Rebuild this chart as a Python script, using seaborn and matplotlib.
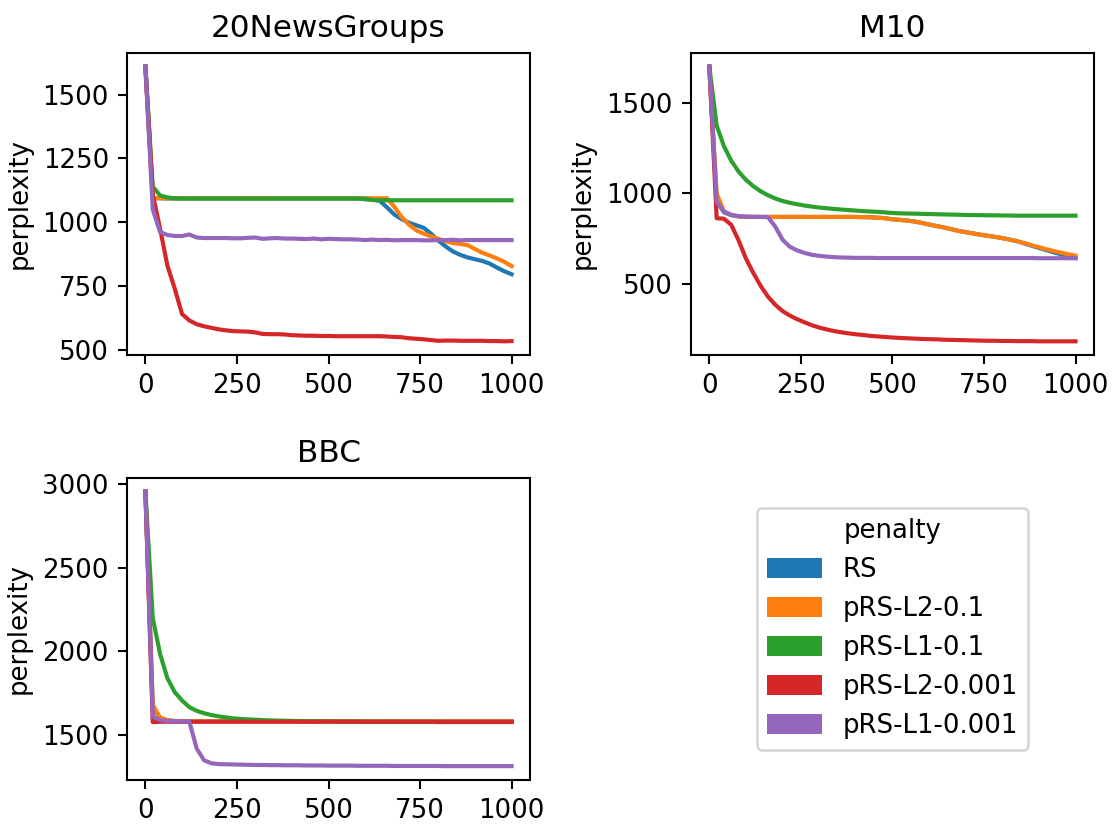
"""
Perplexity curves of the penalised samplers on three corpora.
"""

import matplotlib
matplotlib.use("Agg")
import matplotlib.pyplot as plt
from matplotlib.patches import Patch
import seaborn as sns
import pandas as pd

steps = list(range(0, 1001, 20))
penalties = ["RS", "pRS-L2-0.1", "pRS-L1-0.1", "pRS-L2-0.001", "pRS-L1-0.001"]
datasets = ["20NewsGroups", "M10", "BBC"]

# 20NewsGroups
ng_rs = [1610, 1095, 1094, 1093, 1093, 1093, 1093, 1093, 1093, 1093,
         1093, 1093, 1093, 1093, 1093, 1094, 1093, 1093, 1093, 1093,
         1093, 1093, 1093, 1093, 1093, 1093, 1093, 1093, 1093, 1093,
         1090, 1089, 1084, 1058, 1030, 1012, 998, 988, 978, 955,
         928, 905, 885, 872, 862, 855, 848, 838, 822, 808,
         796]
ng_l2_01 = [1610, 1095, 1094, 1094, 1094, 1094, 1094, 1094, 1094, 1094,
            1094, 1094, 1094, 1094, 1094, 1095, 1094, 1094, 1094, 1094,
            1094, 1094, 1094, 1094, 1094, 1094, 1094, 1094, 1094, 1094,
            1094, 1094, 1094, 1094, 1060, 1020, 990, 968, 955, 945,
            935, 925, 918, 915, 910, 895, 880, 870, 858, 845,
            828]
ng_l1_01 = [1610, 1140, 1105, 1097, 1094, 1093, 1093, 1093, 1093, 1093,
            1093, 1093, 1093, 1093, 1093, 1093, 1093, 1093, 1093, 1093,
            1093, 1093, 1093, 1093, 1093, 1093, 1093, 1093, 1093, 1093,
            1092, 1087, 1086, 1086, 1086, 1086, 1086, 1086, 1086, 1086,
            1086, 1086, 1086, 1086, 1086, 1086, 1086, 1086, 1086, 1086,
            1086]
ng_l2_0001 = [1610, 1110, 975, 830, 740, 640, 615, 600, 592, 586,
              580, 576, 573, 572, 571, 568, 562, 561, 561, 560,
              557, 556, 555, 555, 554, 554, 553, 553, 553, 553,
              553, 553, 553, 552, 550, 549, 545, 543, 541, 538,
              535, 536, 536, 535, 535, 535, 535, 534, 534, 533,
              534]
ng_l1_0001 = [1610, 1050, 962, 950, 946, 946, 952, 940, 938, 938,
              938, 938, 937, 937, 939, 940, 935, 937, 938, 936,
              936, 935, 934, 936, 933, 935, 934, 933, 933, 932,
              930, 932, 930, 931, 929, 930, 930, 930, 929, 929,
              930, 930, 931, 929, 930, 930, 930, 930, 930, 930,
              930]

# M10
m10_rs = [1700, 960, 895, 880, 873, 870, 870, 870, 870, 870,
          870, 870, 870, 870, 870, 870, 870, 870, 870, 870,
          870, 869, 868, 866, 863, 857, 854, 850, 845, 837,
          828, 820, 812, 803, 793, 786, 779, 772, 766, 760,
          753, 745, 736, 724, 711, 699, 687, 675, 664, 653,
          643]
m10_l2_01 = [1700, 1000, 900, 880, 873, 870, 870, 870, 870, 870,
             870, 870, 870, 870, 870, 870, 870, 870, 870, 870,
             870, 869, 868, 866, 863, 857, 854, 850, 845, 837,
             828, 820, 812, 803, 793, 786, 779, 772, 766, 760,
             753, 745, 736, 726, 714, 703, 692, 682, 673, 664,
             656]
m10_l1_01 = [1700, 1375, 1260, 1180, 1120, 1075, 1040, 1012, 990, 972,
             958, 948, 940, 933, 927, 922, 918, 914, 911, 908,
             905, 902, 900, 898, 895, 892, 890, 889, 888, 887,
             886, 885, 884, 883, 882, 881, 880, 880, 879, 879,
             878, 878, 877, 877, 877, 877, 877, 877, 877, 877,
             877]
m10_l2_0001 = [1700, 863, 860, 826, 740, 640, 561, 490, 430, 385,
               350, 325, 305, 288, 272, 259, 249, 240, 233, 227,
               222, 218, 213, 210, 207, 204, 202, 200, 198, 196,
               195, 194, 192, 191, 190, 189, 188, 187, 186, 186,
               185, 185, 184, 184, 184, 183, 183, 183, 183, 183,
               183]
m10_l1_0001 = [1700, 954, 900, 881, 875, 872, 871, 870, 869, 817,
               744, 705, 685, 671, 661, 655, 651, 648, 646, 645,
               644, 644, 644, 643, 643, 643, 643, 643, 643, 643,
               643, 643, 643, 643, 643, 643, 643, 643, 643, 643,
               643, 643, 643, 643, 643, 642, 642, 642, 642, 642,
               642]

# BBC
bbc_rs = [2955, 1670, 1600, 1588, 1584, 1582, 1582, 1582, 1582, 1582,
          1582, 1582, 1582, 1582, 1582, 1582, 1582, 1582, 1582, 1582,
          1582, 1582, 1582, 1582, 1582, 1582, 1582, 1582, 1582, 1582,
          1582, 1582, 1582, 1582, 1582, 1582, 1582, 1582, 1582, 1582,
          1582, 1582, 1582, 1582, 1582, 1582, 1582, 1582, 1582, 1582,
          1582]
bbc_l2_01 = [2955, 1680, 1605, 1590, 1585, 1583, 1582, 1582, 1582, 1582,
             1582, 1582, 1582, 1582, 1582, 1582, 1582, 1582, 1582, 1582,
             1582, 1582, 1582, 1582, 1582, 1582, 1582, 1582, 1582, 1582,
             1582, 1582, 1582, 1582, 1582, 1582, 1582, 1582, 1582, 1582,
             1582, 1582, 1582, 1582, 1582, 1582, 1582, 1582, 1582, 1582,
             1582]
bbc_l1_01 = [2955, 2200, 1985, 1840, 1757, 1707, 1667, 1645, 1631, 1620,
             1612, 1606, 1600, 1597, 1594, 1592, 1590, 1588, 1587, 1586,
             1585, 1584, 1584, 1583, 1583, 1582, 1582, 1581, 1581, 1581,
             1580, 1580, 1580, 1580, 1579, 1579, 1579, 1579, 1579, 1579,
             1578, 1578, 1578, 1578, 1578, 1578, 1578, 1578, 1578, 1578,
             1578]
bbc_l2_0001 = [2955, 1578, 1580, 1580, 1580, 1580, 1580, 1580, 1580, 1580,
               1580, 1580, 1580, 1581, 1580, 1580, 1580, 1580, 1580, 1580,
               1580, 1580, 1580, 1580, 1580, 1581, 1580, 1580, 1580, 1580,
               1580, 1580, 1580, 1580, 1580, 1580, 1580, 1580, 1580, 1580,
               1580, 1580, 1580, 1580, 1580, 1580, 1580, 1580, 1580, 1580,
               1580]
bbc_l1_0001 = [2955, 1610, 1590, 1585, 1583, 1582, 1581, 1420, 1350, 1332,
               1327, 1326, 1325, 1324, 1323, 1322, 1322, 1321, 1321, 1320,
               1320, 1320, 1319, 1319, 1319, 1318, 1318, 1318, 1318, 1317,
               1317, 1317, 1317, 1317, 1316, 1316, 1316, 1316, 1316, 1316,
               1316, 1315, 1315, 1315, 1315, 1315, 1315, 1315, 1315, 1315,
               1315]

curves = {
    "20NewsGroups": [ng_rs, ng_l2_01, ng_l1_01, ng_l2_0001, ng_l1_0001],
    "M10": [m10_rs, m10_l2_01, m10_l1_01, m10_l2_0001, m10_l1_0001],
    "BBC": [bbc_rs, bbc_l2_01, bbc_l1_01, bbc_l2_0001, bbc_l1_0001],
}

rows = []
for ds in datasets:
    for pen, vals in zip(penalties, curves[ds]):
        for s, v in zip(steps, vals):
            rows.append({"dataset": ds, "penalty": pen, "step": s, "perplexity": v})
df = pd.DataFrame(rows)

palette = sns.color_palette("tab10", len(penalties))

DPI = 187
fig, axes = plt.subplots(2, 2, figsize=(1115 / DPI, 827 / DPI), dpi=DPI)

for ax, ds in zip(axes.flat, datasets):
    sns.lineplot(data=df[df["dataset"] == ds], x="step", y="perplexity",
                 hue="penalty", hue_order=penalties, palette=palette,
                 estimator=None, linewidth=1.6, legend=False, ax=ax)
    ax.set_title(ds)
    ax.set_xlabel("")
    ax.set_ylabel("perplexity")
    ax.set_xticks([0, 250, 500, 750, 1000])

# legend sits in the empty fourth panel
axes[1, 1].axis("off")
handles = [Patch(facecolor=c, label=p) for c, p in zip(palette, penalties)]
axes[1, 1].legend(handles=handles, title="penalty", loc="center",
                  handleheight=0.8, handlelength=2.1)

plt.subplots_adjust(left=0.114, right=0.981, top=0.936, bottom=0.057,
                    wspace=0.40, hspace=0.406)
fig.savefig("out.png", dpi=DPI)
